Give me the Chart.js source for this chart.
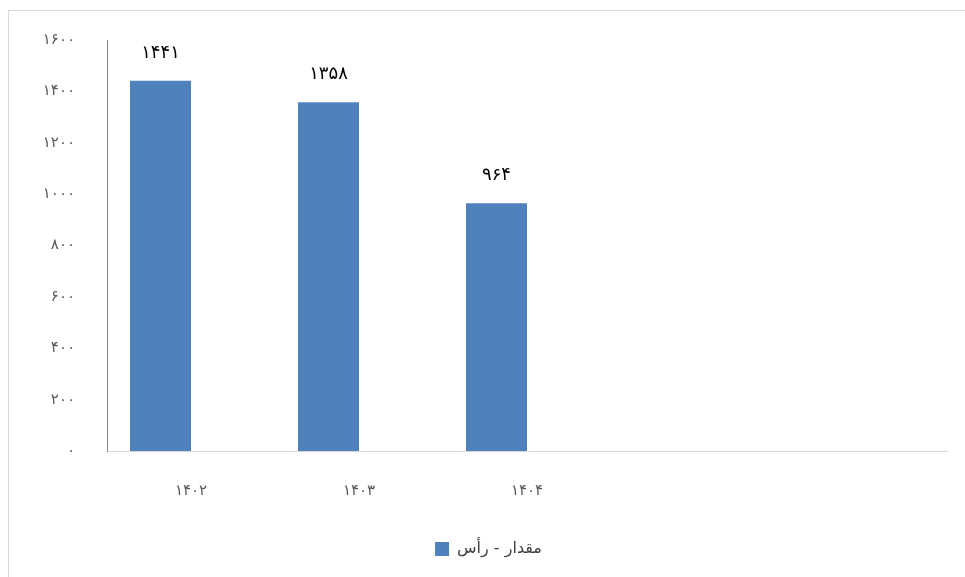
<!DOCTYPE html>
<html>
<head>
<meta charset="utf-8">
<script src="https://cdn.jsdelivr.net/npm/chart.js@4.4.1/dist/chart.umd.min.js"></script>
<style>
  html, body { margin: 0; padding: 0; background: #fff; }
  #frame { position: absolute; left: 8px; top: 10px; width: 1000px; height: 620px; border: 1px solid #d9d9d9; }
  #wrap { position: absolute; left: 0; top: 0; width: 965px; height: 577px; }
</style>
</head>
<body>
<div id="frame"></div>
<div id="wrap"><canvas id="chart"></canvas></div>
<script>
// categories (two empty slots at the end, like the original sheet)
var years = ['۱۴۰۲', '۱۴۰۳', '۱۴۰۴', '', '']
var headCount = [1441, 1358, 964, null, null]
var emptySeries = [null, null, null, null, null]
var seriesName = 'مقدار - رأس'
var yTicks = [0, 200, 400, 600, 800, 1000, 1200, 1400, 1600]

function toPersian(n){
  var d = '۰۱۲۳۴۵۶۷۸۹'
  return String(n).replace(/[0-9]/g, function(c){ return d[+c] })
}

// values above the bars
var barLabels = {
  id: 'barLabels',
  afterDatasetsDraw: function(chart){
    var ctx = chart.ctx
    var meta = chart.getDatasetMeta(0)
    ctx.save()
    ctx.font = '18px "DejaVu Sans"'
    ctx.fillStyle = '#000'
    ctx.textAlign = 'center'
    ctx.textBaseline = 'middle'
    meta.data.forEach(function(bar, i){
      var v = headCount[i]
      if (v == null) return
      ctx.fillText(toPersian(v), bar.x, bar.y - 28)
    })
    ctx.restore()
  }
}

var chart = new Chart(document.querySelector('#chart'), {
  type: 'bar',
  data: {
    labels: years,
    datasets: [{
      label: seriesName,
      data: headCount,
      backgroundColor: '#4F81BD',
      borderWidth: 0
    }, {
      label: '',
      data: emptySeries,
      backgroundColor: '#C0504D'
    }]
  },
  options: {
    responsive: true,
    maintainAspectRatio: false,
    animation: false,
    layout: { padding: { left: 30, right: 18, top: 40, bottom: 10 } },
    datasets: { bar: { barPercentage: 1, categoryPercentage: 0.726 } },
    scales: {
      x: {
        grid: { display: false },
        border: { display: true, color: '#d9d9d9', width: 1 },
        ticks: {
          color: '#595959',
          font: { family: 'DejaVu Sans', size: 15 },
          padding: 23,
          maxRotation: 0
        },
        afterFit: function(s){ s.height = 80 }
      },
      y: {
        min: 0,
        max: 1600,
        grid: { display: false },
        border: { display: true, color: '#868686', width: 1 },
        afterBuildTicks: function(s){ s.ticks = yTicks.map(function(v){ return { value: v } }) },
        ticks: {
          color: '#595959',
          font: { family: 'DejaVu Sans', size: 15 },
          padding: 24,
          callback: function(v){ return toPersian(v) }
        },
        afterFit: function(s){ s.width = 77 }
      }
    },
    plugins: {
      legend: {
        position: 'bottom',
        labels: {
          color: '#404040',
          font: { family: 'DejaVu Sans', size: 16 },
          boxWidth: 14,
          boxHeight: 14,
          padding: 10,
          filter: function(item){ return item.datasetIndex === 0 }
        }
      },
      tooltip: { enabled: false }
    }
  },
  plugins: [barLabels]
});
</script>
</body>
</html>
